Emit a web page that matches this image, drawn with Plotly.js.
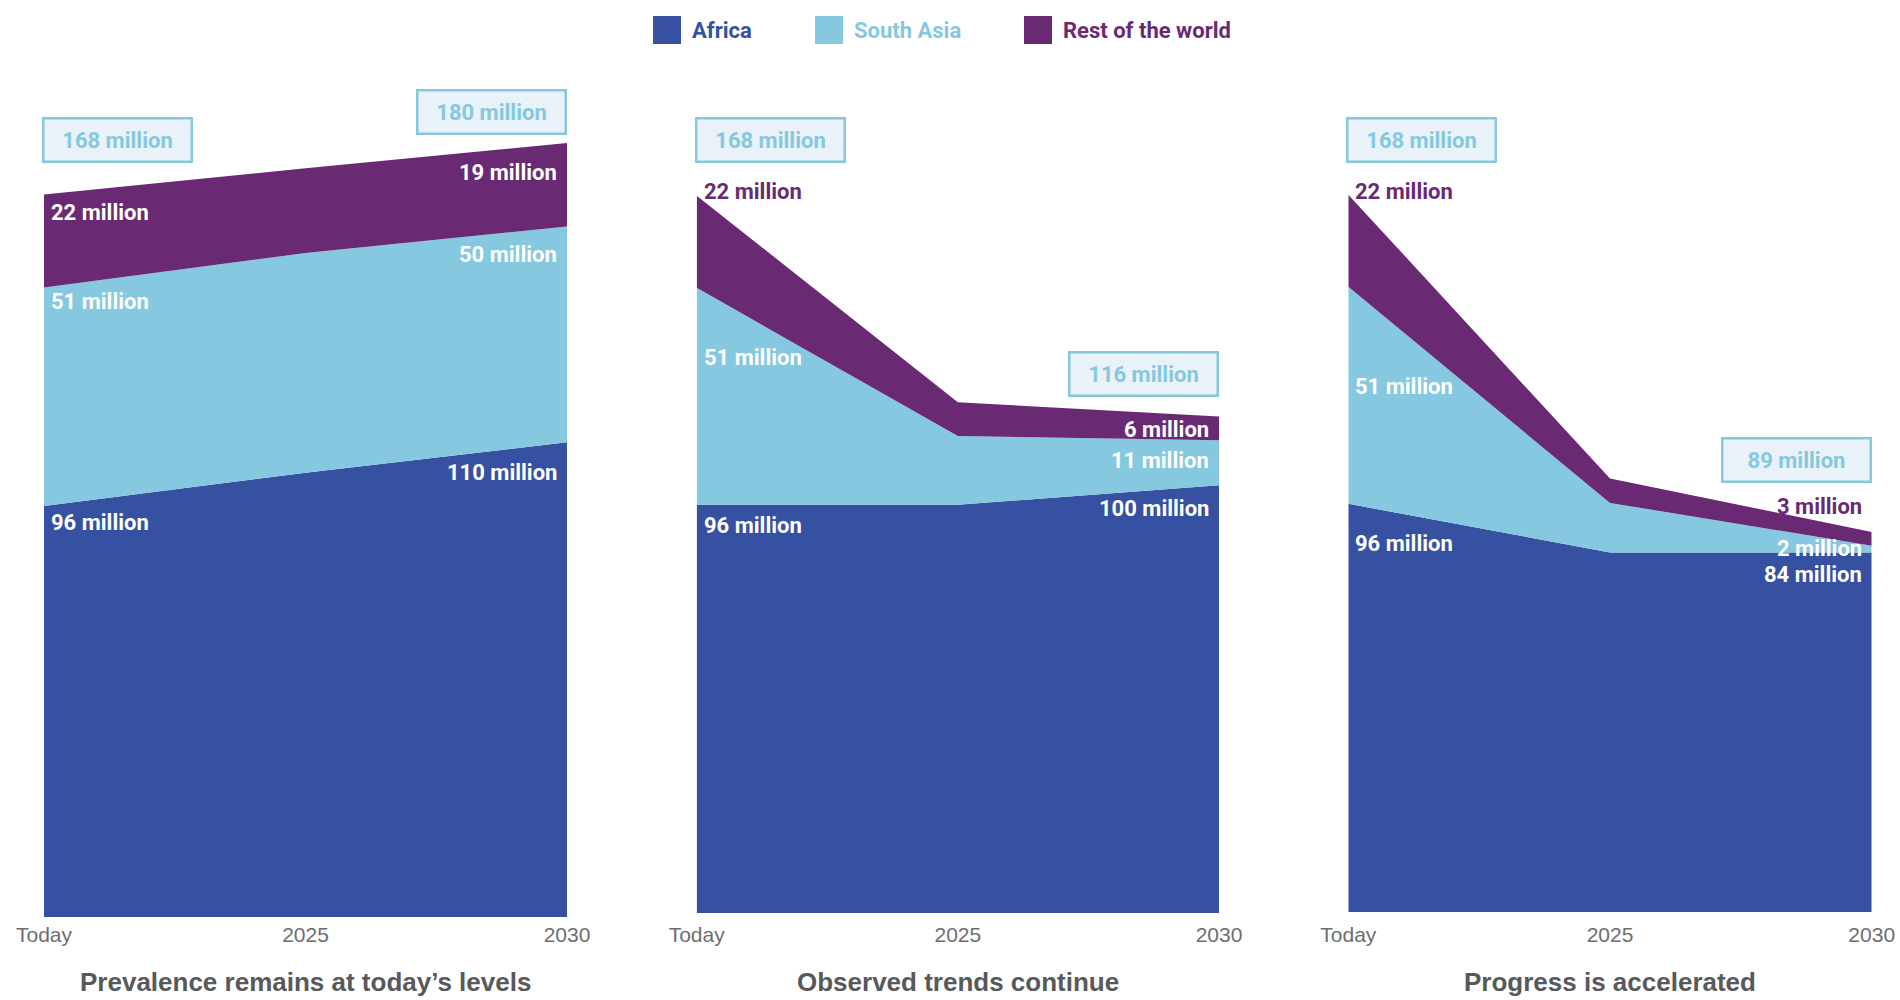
<!DOCTYPE html>
<html>
<head>
<meta charset="utf-8">
<script src="https://cdn.plot.ly/plotly-3.0.1.min.js"></script>
<style>
  html, body { margin: 0; padding: 0; background: #ffffff; }
  #chart { width: 1900px; height: 1000px; }
</style>
</head>
<body>
<div id="chart"></div>
<script>
// ---------------- DATA (million people) ----------------
const periods = ['Today', '2025', '2030'];
const scenarios = ['Prevalence remains at today\u2019s levels', 'Observed trends continue', 'Progress is accelerated'];
const seriesNames = ['Africa', 'South Asia', 'Rest of the world'];

// Scenario 1: prevalence remains at today's levels
const africa1 = [95.6, 103.3, 110.4];
const southAsia1 = [50.8, 51.1, 50.2];
const rest1 = [21.6, 19.7, 19.4];
// Scenario 2: observed trends continue
const africa2 = [95.6, 95.6, 100.2];
const southAsia2 = [50.8, 16.1, 10.5];
const rest2 = [21.6, 7.9, 5.6];
// Scenario 3: progress is accelerated
const africa3 = [95.6, 84.2, 84.2];
const southAsia3 = [50.8, 11.6, 1.6];
const rest3 = [21.6, 5.7, 3.2];

// Total labels shown in boxes (million)
const totalToday = [168, 168, 168];
const total2030 = [180, 116, 89];

// ---------------- STYLE ----------------
const colors = ['#3650a2', '#85c8df', '#6a2a73'];
const boxFill = '#e8f2f8';
const labelFont = 'Roboto, "Liberation Sans", Arial, sans-serif';
const tickFont = '"Liberation Sans", Arial, Helvetica, sans-serif';

const panels = [
  {series: [africa1, southAsia1, rest1], xd: [0.02316, 0.29842], yd: [0.083, 0.943], standoff: 3,
   leftShift: [-17, -14, -18], rightShift: [-30, -28, -29], leftColor: ['#fff', '#fff', '#fff'], rightColor: ['#fff', '#fff', '#fff'],
   boxLeftShift: 32, boxRightShift: 8.5},
  {series: [africa2, southAsia2, rest2], xd: [0.36668, 0.64158], yd: [0.087, 0.941], standoff: 7,
   leftShift: [-21, -70, 4.4], rightShift: [-23.6, -19.9, -13.5], leftColor: ['#fff', '#fff', colors[2]], rightColor: ['#fff', '#fff', '#fff'],
   boxLeftShift: 33, boxRightShift: 19},
  {series: [africa3, southAsia3, rest3], xd: [0.70963, 0.98511], yd: [0.088, 0.942], standoff: 8,
   leftShift: [-40, -99.4, 3.4], rightShift: [-21.6, -3.1, 25.7], leftColor: ['#fff', '#fff', colors[2]], rightColor: ['#fff', '#fff', colors[2]],
   boxLeftShift: 32, boxRightShift: 48.5}
];

const traces = [];
const annotations = [];
const shapes = [];
const layout = {
  width: 1900, height: 1000,
  margin: {l: 0, r: 0, t: 0, b: 0},
  paper_bgcolor: '#ffffff', plot_bgcolor: '#ffffff',
  showlegend: false,
  hovermode: false
};

const xIdx = [0, 1, 2];
const fmt = v => Math.round(v) + ' million';

panels.forEach((p, pi) => {
  const n = pi === 0 ? '' : String(pi + 1);
  const xa = 'x' + n, ya = 'y' + n;
  layout['xaxis' + n] = {
    domain: p.xd, anchor: ya, range: [0, 2], type: 'linear',
    tickvals: xIdx, ticktext: periods, ticks: '', showgrid: false, zeroline: false, showline: false,
    ticklabelstandoff: p.standoff,
    tickfont: {family: tickFont, size: 21, color: '#6d6e70'}, fixedrange: true
  };
  layout['yaxis' + n] = {
    domain: p.yd, anchor: xa, range: [0, 200], visible: false, showgrid: false, zeroline: false, fixedrange: true
  };
  // stacked areas
  p.series.forEach((vals, si) => {
    traces.push({
      type: 'scatter', x: xIdx, y: vals, xaxis: xa, yaxis: ya,
      stackgroup: 'g' + pi, mode: 'none', fillcolor: colors[si], name: seriesNames[si],
      line: {width: 0}, hoverinfo: 'skip'
    });
  });
  // cumulative tops
  const cum = [];
  let run = [0, 0, 0];
  p.series.forEach(vals => { run = run.map((r, i) => r + vals[i]); cum.push(run.slice()); });
  // value labels
  p.series.forEach((vals, si) => {
    annotations.push({
      xref: xa, yref: ya, x: 0, y: cum[si][0], xanchor: 'left', yanchor: 'middle',
      xshift: 5, yshift: p.leftShift[si], showarrow: false,
      text: fmt(vals[0]), font: {family: labelFont, size: 22, color: p.leftColor[si], weight: 700}
    });
    annotations.push({
      xref: xa, yref: ya, x: 2, y: cum[si][2], xanchor: 'right', yanchor: 'middle',
      xshift: -8, yshift: p.rightShift[si], showarrow: false,
      text: fmt(vals[2]), font: {family: labelFont, size: 22, color: p.rightColor[si], weight: 700}
    });
  });
  // total boxes
  const boxStyle = {
    showarrow: false, width: 146, height: 41, borderpad: 0, borderwidth: 2.5,
    bgcolor: boxFill, bordercolor: colors[1], align: 'center', valign: 'middle',
    font: {family: labelFont, size: 22, color: colors[1], weight: 700}
  };
  annotations.push(Object.assign({}, boxStyle, {
    xref: xa, yref: ya, x: 0, y: cum[2][0], xanchor: 'left', yanchor: 'bottom',
    xshift: -2, yshift: p.boxLeftShift, text: totalToday[pi] + ' million'
  }));
  annotations.push(Object.assign({}, boxStyle, {
    xref: xa, yref: ya, x: 2, y: cum[2][2], xanchor: 'right', yanchor: 'bottom',
    xshift: 0, yshift: p.boxRightShift, text: total2030[pi] + ' million'
  }));
  // scenario title
  annotations.push({
    xref: xa, yref: 'paper', x: 1, y: 0.018, xanchor: 'center', yanchor: 'middle', showarrow: false,
    text: scenarios[pi], font: {family: tickFont, size: 26, color: '#58595b', weight: 700}
  });
});

// manual legend
const legendSquares = [653, 815, 1024];
const legendTexts = [690, 852, 1061];
seriesNames.forEach((name, i) => {
  shapes.push({
    type: 'rect', xref: 'paper', yref: 'paper',
    x0: legendSquares[i] / 1900, x1: (legendSquares[i] + 28) / 1900,
    y0: 1 - 44 / 1000, y1: 1 - 16 / 1000,
    fillcolor: colors[i], line: {width: 0}
  });
  annotations.push({
    xref: 'paper', yref: 'paper', x: legendTexts[i] / 1900, y: 1 - 30 / 1000,
    xanchor: 'left', yanchor: 'middle', showarrow: false, text: name,
    font: {family: labelFont, size: 22, color: colors[i], weight: 700}
  });
});

layout.annotations = annotations;
layout.shapes = shapes;

Plotly.newPlot('chart', traces, layout, {staticPlot: true, displayModeBar: false});
</script>
</body>
</html>
